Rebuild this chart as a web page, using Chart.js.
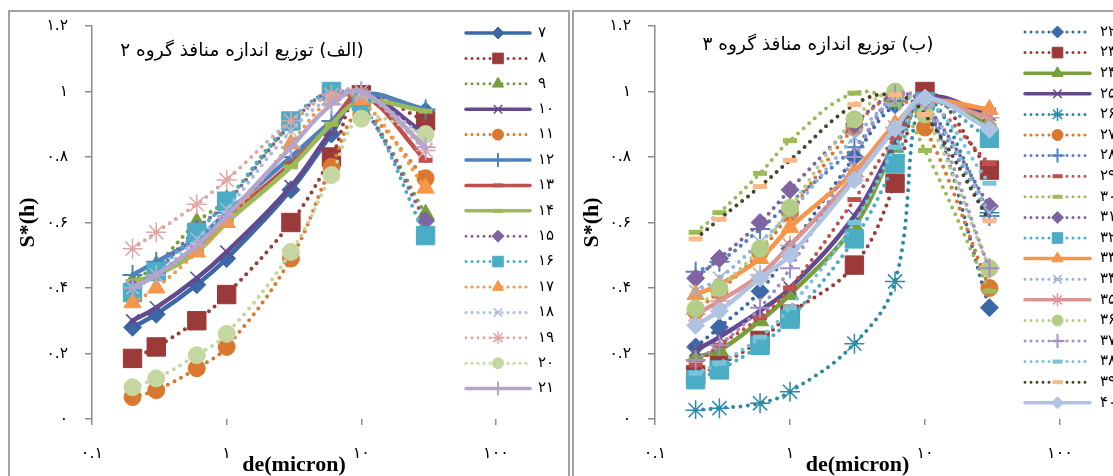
<!DOCTYPE html>
<html>
<head>
<meta charset="utf-8">
<script src="https://cdn.jsdelivr.net/npm/chart.js@4.4.0/dist/chart.umd.min.js"></script>
<style>
html, body { margin: 0; padding: 0; background: #fff; overflow: hidden; width: 1113px; height: 476px; }
.panel { position: absolute; top: 10px; border: 2px solid #a3a3a3; height: 480px; background: #fff; }
#p1 { left: 8px; width: 558px; }
#p2 { left: 572px; width: 560px; }
canvas { display: block; }
</style>
</head>
<body>
<div class="panel" id="p1"><canvas id="c1" width="558" height="464"></canvas></div>
<div class="panel" id="p2"><canvas id="c2" width="560" height="464"></canvas></div>
<script>
// pore diameter (micron) at each measured suction
const deMicron = [0.2, 0.3, 0.6, 1, 3, 6, 10, 30];
const xTicks = [0.1, 1, 10, 100];
const yTicks = [0, 0.2, 0.4, 0.6, 0.8, 1, 1.2];

// group 2 (left)
const group2Ids = [7, 8, 9, 10, 11, 12, 13, 14, 15, 16, 17, 18, 19, 20, 21];
const s7  = [0.28, 0.32, 0.41, 0.49, 0.70, 0.87, 0.99, 0.94];
const s8  = [0.185, 0.22, 0.30, 0.38, 0.60, 0.80, 0.99, 0.91];
const s9  = [0.42, 0.47, 0.60, 0.67, 0.90, 0.99, 0.96, 0.625];
const s10 = [0.30, 0.34, 0.43, 0.51, 0.71, 0.88, 0.99, 0.87];
const s11 = [0.067, 0.088, 0.155, 0.22, 0.49, 0.77, 0.93, 0.735];
const s12 = [0.44, 0.48, 0.55, 0.63, 0.80, 0.91, 0.99, 0.945];
const s13 = [0.41, 0.44, 0.52, 0.61, 0.78, 0.90, 0.99, 0.79];
const s14 = [0.42, 0.44, 0.51, 0.60, 0.77, 0.90, 0.97, 0.94];
const s15 = [0.40, 0.45, 0.58, 0.66, 0.90, 1.0, 0.96, 0.605];
const s16 = [0.386, 0.45, 0.57, 0.665, 0.91, 1.0, 0.97, 0.56];
const s17 = [0.355, 0.40, 0.51, 0.60, 0.84, 0.975, 0.975, 0.705];
const s18 = [0.40, 0.44, 0.55, 0.64, 0.88, 0.98, 0.99, 0.86];
const s19 = [0.52, 0.57, 0.656, 0.73, 0.91, 0.99, 1.0, 0.82];
const s20 = [0.097, 0.124, 0.195, 0.26, 0.51, 0.745, 0.917, 0.87];
const s21 = [0.40, 0.44, 0.53, 0.62, 0.83, 0.96, 1.0, 0.83];
const group2Values = [s7, s8, s9, s10, s11, s12, s13, s14, s15, s16, s17, s18, s19, s20, s21];

// group 3 (right)
const group3Ids = [22, 23, 24, 25, 26, 27, 28, 29, 30, 31, 32, 33, 34, 35, 36, 37, 38, 39, 40];
const s22 = [0.22, 0.28, 0.39, 0.52, 0.80, 0.96, 0.97, 0.34];
const s23 = [0.135, 0.165, 0.24, 0.32, 0.47, 0.72, 1.0, 0.76];
const s24 = [0.19, 0.21, 0.30, 0.38, 0.59, 0.83, 0.97, 0.90];
const s25 = [0.21, 0.25, 0.33, 0.40, 0.62, 0.84, 0.98, 0.93];
const s26 = [0.027, 0.033, 0.048, 0.083, 0.23, 0.42, 0.97, 0.63];
const s27 = [0.33, 0.39, 0.51, 0.63, 0.89, 0.98, 0.89, 0.40];
const s28 = [0.45, 0.48, 0.58, 0.66, 0.83, 0.97, 0.95, 0.62];
const s29 = [0.165, 0.225, 0.31, 0.40, 0.67, 0.86, 0.96, 0.78];
const s30 = [0.57, 0.63, 0.75, 0.85, 0.995, 0.96, 0.82, 0.39];
const s31 = [0.43, 0.49, 0.60, 0.70, 0.90, 0.99, 0.96, 0.65];
const s32 = [0.12, 0.15, 0.225, 0.305, 0.55, 0.78, 0.97, 0.857];
const s33 = [0.38, 0.41, 0.49, 0.585, 0.756, 0.90, 0.97, 0.945];
const s34 = [0.39, 0.43, 0.54, 0.63, 0.86, 0.97, 0.96, 0.63];
const s35 = [0.32, 0.36, 0.44, 0.53, 0.74, 0.89, 0.97, 0.92];
const s36 = [0.337, 0.40, 0.52, 0.645, 0.915, 1.0, 0.93, 0.46];
const s37 = [0.18, 0.225, 0.34, 0.46, 0.80, 0.99, 0.96, 0.46];
const s38 = [0.14, 0.17, 0.25, 0.34, 0.60, 0.83, 0.97, 0.72];
const s39 = [0.55, 0.61, 0.71, 0.79, 0.96, 0.99, 0.93, 0.605];
const s40 = [0.286, 0.33, 0.43, 0.50, 0.73, 0.887, 0.98, 0.885];
const group3Values = [s22, s23, s24, s25, s26, s27, s28, s29, s30, s31, s32, s33, s34, s35, s36, s37, s38, s39, s40];

// [line colour, line type, marker, marker colour]
const group2Styles = [
  ['#3b69a8', 'solid', 'diamond'],
  ['#9b3a38', 'dot', 'square'],
  ['#76a03c', 'dot', 'triangle'],
  ['#634a8e', 'solid', 'x'],
  ['#d9782e', 'dot', 'circle'],
  ['#4f81bd', 'solid', 'plus'],
  ['#c0504d', 'solid', 'dash'],
  ['#9bbb59', 'solid', 'dash'],
  ['#8064a2', 'dot', 'diamond'],
  ['#4bacc6', 'dot', 'square'],
  ['#f79646', 'dot', 'triangle'],
  ['#a7bde0', 'dot', 'x'],
  ['#e0a6a5', 'dot', 'star'],
  ['#c4d7a0', 'dot', 'circle'],
  ['#b3a5cb', 'solid', 'plus']
];
const group3Styles = [
  ['#3b69a8', 'dot', 'diamond'],
  ['#9b3a38', 'dot', 'square'],
  ['#76a03c', 'solid', 'triangle'],
  ['#634a8e', 'solid', 'x'],
  ['#2a8aa6', 'dot', 'star'],
  ['#d9782e', 'dot', 'circle'],
  ['#4f81bd', 'dot', 'plus'],
  ['#c0504d', 'dot', 'dash'],
  ['#9bbb59', 'dot', 'dash'],
  ['#8064a2', 'dot', 'diamond'],
  ['#4bacc6', 'dot', 'square'],
  ['#f79646', 'solid', 'triangle'],
  ['#95b3d7', 'dot', 'x'],
  ['#d99694', 'solid', 'star'],
  ['#b4cd86', 'dot', 'circle'],
  ['#a390c4', 'dot', 'plus'],
  ['#78c3d8', 'dot', 'dash'],
  ['#4a452a', 'dot', 'dash', '#fab98a'],
  ['#b0c3e3', 'solid', 'diamond']
];

const markers = {
  diamond:  { style: 'rectRot',  r: 9,   bw: 1,   lr: 6 },
  square:   { style: 'rect',     r: 13,  bw: 1,   lr: 7.5 },
  triangle: { style: 'triangle', r: 10,  bw: 1,   lr: 6.5 },
  x:        { style: 'crossRot', r: 9,   bw: 1.5, lr: 6 },
  star:     { style: 'star',     r: 10,  bw: 1.5, lr: 6.5 },
  circle:   { style: 'circle',   r: 8.5, bw: 1,   lr: 5.5 },
  plus:     { style: 'cross',    r: 10,  bw: 2,   lr: 7 },
  dash:     { style: 'line',     r: 7,   bw: 5,   lr: 5 }
};

const faDigits = '۰۱۲۳۴۵۶۷۸۹';
const toFa = v => String(v).replace(/\d/g, d => faDigits[d]);

function makeDatasets(ids, values, styles) {
  return ids.map((id, i) => {
    const [color, line, marker, markerColor] = styles[i];
    const m = markers[marker];
    const mc = markerColor || color;
    const dotted = line === 'dot';
    return {
      label: toFa(id),
      data: deMicron.map((x, j) => ({ x: x, y: values[i][j] })),
      borderColor: color,
      borderWidth: dotted ? 4 : 4.5,
      borderDash: dotted ? [0, 7.5] : [],
      borderCapStyle: 'round',
      borderJoinStyle: 'round',
      tension: 0.4,
      fill: false,
      pointStyle: m.style,
      pointRadius: m.r,
      pointBorderWidth: m.bw,
      pointBackgroundColor: mc,
      pointBorderColor: mc,
      order: ids.length - i,
      dotted: dotted,
      legendRadius: m.lr
    };
  });
}

// title inside the plot and Excel-like legend (line + marker)
const extras = {
  id: 'extras',
  afterDraw(chart, args, o) {
    const ctx = chart.ctx;
    ctx.save();
    ctx.fillStyle = '#000';
    ctx.font = '18.5px "DejaVu Sans"';
    ctx.direction = 'rtl';
    ctx.textAlign = 'center';
    ctx.textBaseline = 'middle';
    ctx.fillText(o.title, o.titleX, o.titleY);
    ctx.direction = 'ltr';

    chart.data.datasets.forEach((ds, i) => {
      const y = o.legTop + i * o.legStep;
      ctx.beginPath();
      ctx.strokeStyle = ds.borderColor;
      ctx.lineWidth = ds.dotted ? 3 : 3.5;
      ctx.lineCap = 'round';
      ctx.setLineDash(ds.dotted ? [0, 6] : []);
      ctx.moveTo(o.legX1, y);
      ctx.lineTo(o.legX2, y);
      ctx.stroke();
      ctx.setLineDash([]);
      ctx.lineCap = 'butt';
      ctx.fillStyle = ds.pointBackgroundColor;
      ctx.strokeStyle = ds.pointBorderColor;
      ctx.lineWidth = ds.pointStyle === 'line' ? 4 : ds.pointBorderWidth;
      Chart.helpers.drawPoint(ctx, {
        pointStyle: ds.pointStyle, rotation: 0,
        radius: ds.legendRadius, borderWidth: ctx.lineWidth
      }, (o.legX1 + o.legX2) / 2, y);
      ctx.fillStyle = '#000';
      ctx.font = '15px "DejaVu Sans"';
      ctx.textAlign = 'left';
      ctx.textBaseline = 'middle';
      ctx.fillText(ds.label, o.labelX, y);
    });
    ctx.restore();
  }
};

function makeOptions(cfg) {
  return {
    responsive: false,
    animation: false,
    layout: { padding: { left: 0, top: 12, right: cfg.padRight, bottom: 0 } },
    plugins: {
      legend: { display: false },
      tooltip: { enabled: false },
      extras: cfg.extras
    },
    scales: {
      x: {
        type: 'logarithmic',
        min: 0.1,
        max: 100,
        afterBuildTicks: s => { s.ticks = xTicks.map(v => ({ value: v })); },
        afterFit: s => { s.height = 57; s.paddingLeft = 0; s.paddingRight = 0; },
        ticks: {
          callback: v => toFa(v),
          autoSkip: false, maxRotation: 0,
          color: '#000', padding: 19,
          font: { family: 'DejaVu Sans', size: 16 }
        },
        grid: { drawOnChartArea: false, tickLength: 6, color: '#8c8c8c', lineWidth: 1.5 },
        border: { display: false },
        title: {
          display: true, text: 'de(micron)', color: '#000',
          font: { family: 'Liberation Serif', size: 22, weight: 'bold', lineHeight: 1 },
          padding: { top: 0, bottom: 0 }
        }
      },
      y: {
        min: 0,
        max: 1.2,
        afterBuildTicks: s => { s.ticks = yTicks.map(v => ({ value: v })); },
        afterFit: s => { s.width = cfg.yWidth; s.paddingTop = 0; s.paddingBottom = 0; },
        ticks: {
          callback: v => toFa(v),
          color: '#000', padding: 17,
          font: { family: 'DejaVu Sans', size: 15.5 }
        },
        grid: { drawOnChartArea: false, tickLength: 7, color: '#8c8c8c', lineWidth: 1.5 },
        border: { display: true, color: '#8c8c8c', width: 1.5 },
        title: {
          display: true, text: 'S*(h)', color: '#000',
          font: { family: 'Liberation Serif', size: 22, weight: 'bold', lineHeight: 1 },
          padding: { top: 7, bottom: 0 }
        }
      }
    }
  };
}

new Chart(document.getElementById('c1'), {
  type: 'line',
  data: { datasets: makeDatasets(group2Ids, group2Values, group2Styles) },
  options: makeOptions({
    padRight: 72, yWidth: 82,
    extras: {
      title: '(الف) توزیع اندازه منافذ گروه ۲', titleX: 232, titleY: 39,
      legTop: 21, legStep: 25.4, legX1: 456, legX2: 520, labelX: 528
    }
  }),
  plugins: [extras]
});

new Chart(document.getElementById('c2'), {
  type: 'line',
  data: { datasets: makeDatasets(group3Ids, group3Values, group3Styles) },
  options: makeOptions({
    padRight: 74, yWidth: 81,
    extras: {
      title: '(ب) توزیع اندازه منافذ گروه ۳', titleX: 244, titleY: 33,
      legTop: 20, legStep: 20.6, legX1: 451, legX2: 516, labelX: 526
    }
  }),
  plugins: [extras]
});
</script>
</body>
</html>
